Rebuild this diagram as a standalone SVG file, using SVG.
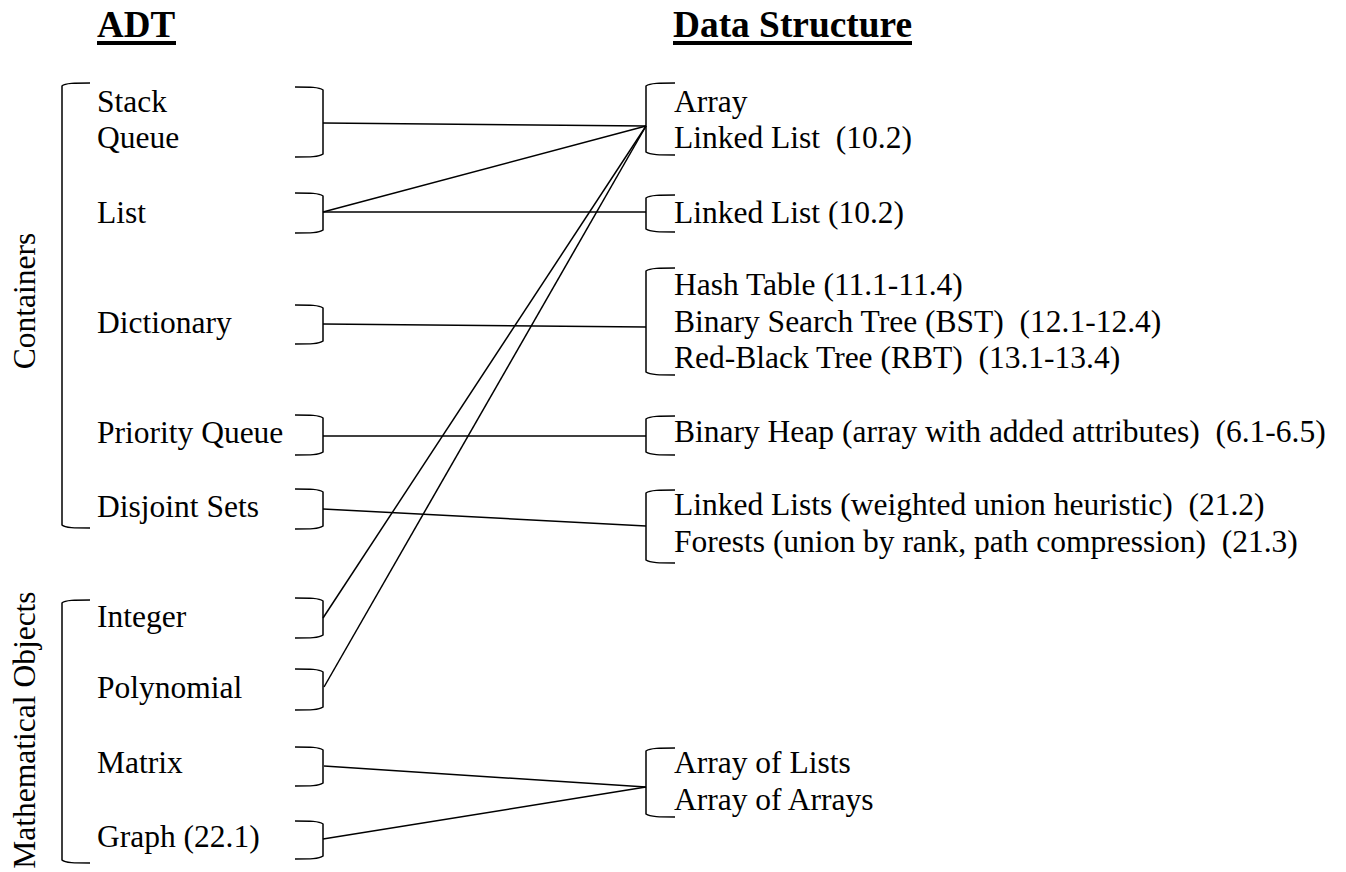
<svg xmlns="http://www.w3.org/2000/svg" width="1346" height="872" viewBox="0 0 1346 872">
<style>
text{font-family:"Liberation Serif","Times New Roman",serif;font-size:31.5px;fill:#000;white-space:pre}
.hdr{font-weight:bold;font-size:37px}
.br{fill:none;stroke:#000;stroke-width:1.5}
.cn{fill:none;stroke:#000;stroke-width:1.5}
</style>
<rect width="1346" height="872" fill="#fff"/>
<g id="headers">
<text class="hdr" x="97" y="37">ADT</text>
<rect x="97" y="41" width="79" height="4" fill="#000"/>
<text class="hdr" x="673" y="37" textLength="239" lengthAdjust="spacingAndGlyphs">Data Structure</text>
<rect x="673" y="41" width="239" height="4" fill="#000"/>
</g>
<g id="group-containers">
<path class="br" d="M90,83 C75,83 65,83 62,86 L62,525 C65,528 75,528 90,528"/>
<text transform="translate(35,301) rotate(-90)" text-anchor="middle">Containers</text>
</g>
<g id="group-math">
<path class="br" d="M90,600 C75,600 65,600 62,603 L62,860 C65,863 75,863 90,863"/>
<text transform="translate(35,730) rotate(-90)" text-anchor="middle">Mathematical Objects</text>
</g>
<g id="adt-stack-queue">
<path class="br" d="M295,87 C310,87 319,87 323,90 L323,154 C319,157 310,157 295,157"/>
<text x="97" y="112">Stack</text>
<text x="97" y="148">Queue</text>
</g>
<g id="adt-list">
<path class="br" d="M295,193 C310,193 319,193 323,196 L323,230 C319,233 310,233 295,233"/>
<text x="97" y="223">List</text>
</g>
<g id="adt-dictionary">
<path class="br" d="M295,305 C310,305 319,305 323,308 L323,341 C319,344 310,344 295,344"/>
<text x="97" y="333">Dictionary</text>
</g>
<g id="adt-priority-queue">
<path class="br" d="M295,415 C310,415 319,415 323,418 L323,452 C319,455 310,455 295,455"/>
<text x="97" y="443">Priority Queue</text>
</g>
<g id="adt-disjoint-sets">
<path class="br" d="M295,489 C310,489 319,489 323,492 L323,526 C319,529 310,529 295,529"/>
<text x="97" y="517">Disjoint Sets</text>
</g>
<g id="adt-integer">
<path class="br" d="M295,598 C310,598 319,598 323,601 L323,635 C319,638 310,638 295,638"/>
<text x="97" y="627">Integer</text>
</g>
<g id="adt-polynomial">
<path class="br" d="M295,669 C310,669 319,669 323,672 L323,707 C319,710 310,710 295,710"/>
<text x="97" y="698">Polynomial</text>
</g>
<g id="adt-matrix">
<path class="br" d="M295,747 C310,747 319,747 323,750 L323,783 C319,786 310,786 295,786"/>
<text x="97" y="773">Matrix</text>
</g>
<g id="adt-graph">
<path class="br" d="M295,821 C310,821 319,821 323,824 L323,856 C319,859 310,859 295,859"/>
<text x="97" y="847">Graph (22.1)</text>
</g>
<g id="ds-array-linked">
<path class="br" d="M675,83 C660,83 650,83 646,86 L646,152 C650,155 660,155 675,155"/>
<text x="674" y="112">Array</text>
<text x="674" y="148">Linked List  (10.2)</text>
</g>
<g id="ds-linked-list">
<path class="br" d="M675,195 C660,195 650,195 646,198 L646,229 C650,232 660,232 675,232"/>
<text x="674" y="223">Linked List (10.2)</text>
</g>
<g id="ds-dictionary">
<path class="br" d="M675,268 C660,268 650,268 646,271 L646,372 C650,375 660,375 675,375"/>
<text x="674" y="295">Hash Table (11.1-11.4)</text>
<text x="674" y="332">Binary Search Tree (BST)  (12.1-12.4)</text>
<text x="674" y="368">Red-Black Tree (RBT)  (13.1-13.4)</text>
</g>
<g id="ds-heap">
<path class="br" d="M675,416 C660,416 650,416 646,419 L646,452 C650,455 660,455 675,455"/>
<text x="674" y="442">Binary Heap (array with added attributes)  (6.1-6.5)</text>
</g>
<g id="ds-disjoint">
<path class="br" d="M675,490 C660,490 650,490 646,493 L646,560 C650,563 660,563 675,563"/>
<text x="674" y="515">Linked Lists (weighted union heuristic)  (21.2)</text>
<text x="674" y="552">Forests (union by rank, path compression)  (21.3)</text>
</g>
<g id="ds-array-of">
<path class="br" d="M675,748 C660,748 650,748 646,751 L646,814 C650,817 660,817 675,817"/>
<text x="674" y="773">Array of Lists</text>
<text x="674" y="810">Array of Arrays</text>
</g>
<g id="connectors">
<line class="cn" x1="323" y1="123" x2="646" y2="126"/>
<line class="cn" x1="323" y1="212" x2="646" y2="126"/>
<line class="cn" x1="323" y1="212" x2="646" y2="212"/>
<line class="cn" x1="323" y1="324" x2="646" y2="327"/>
<line class="cn" x1="323" y1="436" x2="646" y2="436"/>
<line class="cn" x1="323" y1="509" x2="646" y2="526"/>
<line class="cn" x1="323" y1="618" x2="646" y2="126"/>
<line class="cn" x1="324" y1="687" x2="646" y2="126"/>
<line class="cn" x1="324" y1="766" x2="646" y2="787"/>
<line class="cn" x1="323" y1="839" x2="646" y2="787"/>
</g>
</svg>
